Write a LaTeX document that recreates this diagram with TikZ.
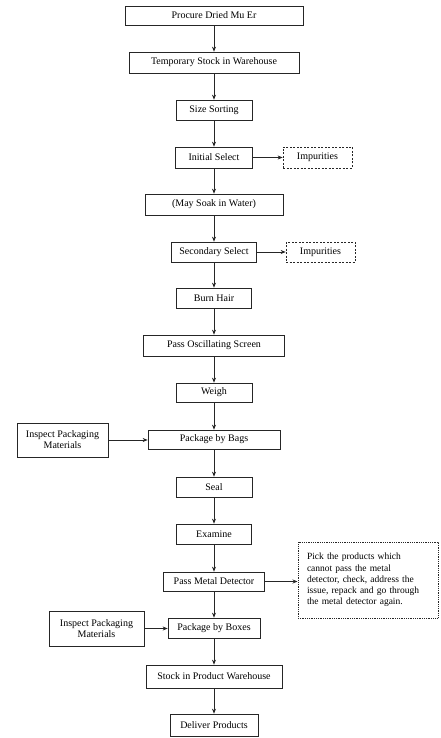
\documentclass[tikz,border=0pt]{standalone}
\usepackage{fontspec}
\setmainfont{Liberation Serif}
\usetikzlibrary{arrows.meta}
\begin{document}
\begin{tikzpicture}[x=1pt,y=-1pt,
  box/.style={draw=black!85, line width=0.7pt, inner sep=0pt, font=\fontsize{10}{11}\selectfont, align=center},
  impbox/.style={box, dashed, dash pattern=on 2pt off 1.5pt},
  notebox/.style={draw=black!85, line width=1pt, dash pattern=on 0.8pt off 1pt, inner sep=0pt, font=\fontsize{9.5}{11.2}\selectfont, align=left},
  arr/.style={draw=black!85, line width=0.7pt, -{Stealth[length=5pt,width=4pt]}}]
\useasboundingbox (0,0) rectangle (441,738);
\fill[white] (0,0) rectangle (441,738);
\node[box, minimum width=178pt, minimum height=19pt] (n1) at (214,15.5) {Procure Dried Mu Er};
\node[box, minimum width=170pt, minimum height=21pt] (n2) at (214,62.5) {Temporary Stock in Warehouse};
\node[box, minimum width=76pt, minimum height=20pt] (n3) at (214,110) {Size Sorting};
\node[box, minimum width=77pt, minimum height=21pt] (n4) at (214,157.5) {Initial Select};
\node[impbox, minimum width=69pt, minimum height=21pt] (i1) at (317.5,157.5) {Impurities};
\node[box, minimum width=138pt, minimum height=21pt] (n5) at (214,204.5) {(May Soak in Water)};
\node[box, minimum width=85pt, minimum height=20pt] (n6) at (214,252) {Secondary Select};
\node[impbox, minimum width=69pt, minimum height=20pt] (i2) at (320.5,252) {Impurities};
\node[box, minimum width=75pt, minimum height=20pt] (n7) at (214,298) {Burn Hair};
\node[box, minimum width=141pt, minimum height=21pt] (n8) at (214,345.5) {Pass Oscillating Screen};
\node[box, minimum width=76pt, minimum height=19pt] (n9) at (214,392.5) {Weigh};
\node[box, minimum width=132pt, minimum height=19pt] (n10) at (214,439.5) {Package by Bags};
\node[box, minimum width=91pt, minimum height=34pt] (p1) at (62.5,440) {Inspect Packaging\\Materials};
\node[box, minimum width=76pt, minimum height=20pt] (n11) at (214,487) {Seal};
\node[box, minimum width=75pt, minimum height=20pt] (n12) at (214,534) {Examine};
\node[box, minimum width=101pt, minimum height=19pt] (n13) at (214,581.5) {Pass Metal Detector};
\node[notebox, minimum width=140pt, minimum height=76pt, text width=122pt] (note) at (368,580) {Pick the products which\\cannot pass the metal\\detector, check, address the\\issue, repack and go through\\the metal detector again.};
\node[box, minimum width=92pt, minimum height=20pt] (n14) at (214,628) {Package by Boxes};
\node[box, minimum width=95pt, minimum height=35pt] (p2) at (96.5,628.5) {Inspect Packaging\\Materials};
\node[box, minimum width=136pt, minimum height=23pt] (n15) at (214,676.5) {Stock in Product Warehouse};
\node[box, minimum width=88pt, minimum height=22pt] (n16) at (214,725) {Deliver Products};
\foreach \a/\b in {n1/n2,n2/n3,n3/n4,n4/n5,n5/n6,n6/n7,n7/n8,n8/n9,n9/n10,n10/n11,n11/n12,n12/n13,n13/n14,n14/n15,n15/n16}
  \draw[arr] (\a.south) -- (\b.north);
\draw[arr] (n4.east) -- (i1.west);
\draw[arr] (n6.east) -- (i2.west);
\draw[arr] (p1.east) -- (p1.east -| n10.west);
\draw[arr] (p2.east) -- (p2.east -| n14.west);
\draw[arr] (n13.east) -- (n13.east -| note.west);
\end{tikzpicture}
\end{document}
